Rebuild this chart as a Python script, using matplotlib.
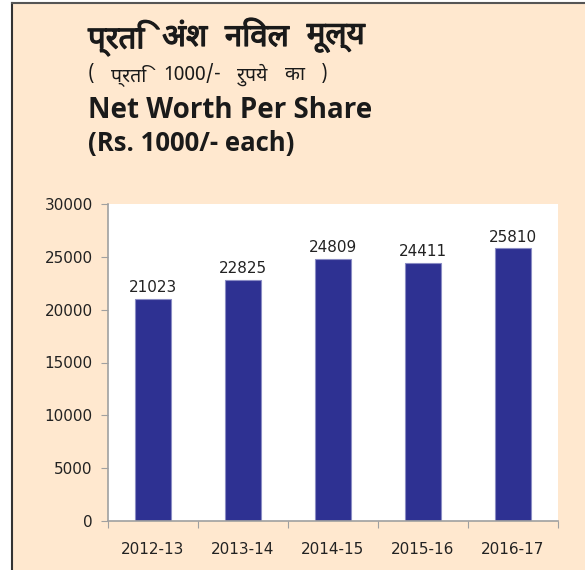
import matplotlib
matplotlib.use("Agg")
import matplotlib.pyplot as plt
import matplotlib.patheffects as pe
from matplotlib import font_manager
from matplotlib.ft2font import FT2Font
from matplotlib.patches import Rectangle

years = ["2012-13", "2013-14", "2014-15", "2015-16", "2016-17"]
net_worth = [21023, 22825, 24809, 24411, 25810]
y_ticks = [0, 5000, 10000, 15000, 20000, 25000, 30000]

title_hi = "प्रति अंश निवल मूल्य"
sub_hi = "( प्रति 1000/- रुपये का )"
title_en = "Net Worth Per Share"
sub_en = "(Rs. 1000/- each)"

peach = "#FFE8CF"
bar_blue = "#2E3192"
W, H = 585, 570


# look for an installed font that has Devanagari glyphs
def find_devanagari():
    found = set()
    for path in font_manager.findSystemFonts():
        try:
            cmap = FT2Font(path).get_charmap()
        except Exception:
            continue
        if 0x0928 in cmap and 0x092A in cmap:
            found.add(font_manager.FontProperties(fname=path).get_name())
    for name in ["Noto Sans Devanagari", "Hind", "Mukta", "Lohit Devanagari",
                 "Poppins", "Noto Serif Devanagari"]:
        if name in found:
            return name
    return sorted(found)[0] if found else None


# draw the words of a line spread out between x0 and x1 (pixels), like the wide spacing in the original
def spread_text(fig, text, x0, x1, y, **kw):
    words = text.split(" ")
    arts = [fig.text(0, 1 - y / H, w, va="center", ha="left", **kw) for w in words]
    r = fig.canvas.get_renderer()
    widths = [a.get_window_extent(renderer=r).width for a in arts]
    gap = (x1 - x0 - sum(widths)) / max(len(words) - 1, 1)
    x = x0
    for a, w in zip(arts, widths):
        a.set_x(x / W)
        x += w + gap


deva = find_devanagari()
hi_family = [deva, "DejaVu Sans"] if deva else ["DejaVu Sans"]

plt.rcParams["font.family"] = ["DejaVu Sans"]

fig = plt.figure(figsize=(5.85, 5.7), dpi=100)
fig.patch.set_facecolor("white")

# peach panel with dark border on top and left
fig.patches.append(Rectangle((12 / W, 0), 1, 1 - 3 / H, transform=fig.transFigure,
                             facecolor=peach, edgecolor="none", zorder=-5))
fig.add_artist(plt.Line2D([12 / W, 12 / W], [0, 1 - 3 / H], color="#333333",
                          lw=1.5, transform=fig.transFigure, zorder=-4))
fig.add_artist(plt.Line2D([12 / W, 1], [1 - 3 / H, 1 - 3 / H], color="#555555",
                          lw=1.5, transform=fig.transFigure, zorder=-4))

bold_fx = [pe.withStroke(linewidth=0.9, foreground="#1a1a1a")]
spread_text(fig, title_hi, 88, 365, 38, family=hi_family, fontsize=22.5,
            color="#1a1a1a", path_effects=bold_fx)
spread_text(fig, sub_hi, 88, 328, 75, family=hi_family, fontsize=14,
            color="#1a1a1a")
fig.text(88 / W, 1 - 111 / H, title_en, family=["Open Sans", "DejaVu Sans"],
         fontsize=20, fontweight="bold", va="center", ha="left", color="#1a1a1a")
fig.text(88 / W, 1 - 143 / H, sub_en, family=["Open Sans", "DejaVu Sans"],
         fontsize=18.5, fontweight="bold", va="center", ha="left", color="#1a1a1a")

ax = fig.add_axes([108 / W, 1 - 521 / H, 450 / W, 317 / H])
ax.set_facecolor("white")

x = range(len(years))
ax.bar(x, net_worth, width=0.4, color=bar_blue, edgecolor="#8A8CC4", linewidth=0.8)
for xi, v in zip(x, net_worth):
    ax.text(xi, v + 350, str(v), ha="center", va="bottom", fontsize=11, color="#222222")

ax.set_xlim(-0.5, len(years) - 0.5)
ax.set_ylim(0, 30000)
ax.set_yticks(y_ticks)
ax.set_yticklabels([str(t) for t in y_ticks], fontsize=11, color="#222222")
ax.set_xticks([i - 0.5 for i in range(len(years) + 1)], minor=False)
ax.set_xticklabels([])
ax.set_xticks(list(x), minor=True)
ax.set_xticklabels(years, minor=True, fontsize=11, color="#222222")
ax.tick_params(axis="x", which="major", length=5, color="#A0A0A0", direction="out")
ax.tick_params(axis="x", which="minor", length=0, pad=15)
ax.tick_params(axis="y", length=5, color="#A0A0A0", pad=6)

for side in ["top", "right"]:
    ax.spines[side].set_visible(False)
for side in ["left", "bottom"]:
    ax.spines[side].set_color("#A0A0A0")
    ax.spines[side].set_linewidth(1.2)

fig.savefig("out.png", dpi=100, facecolor=fig.get_facecolor())
